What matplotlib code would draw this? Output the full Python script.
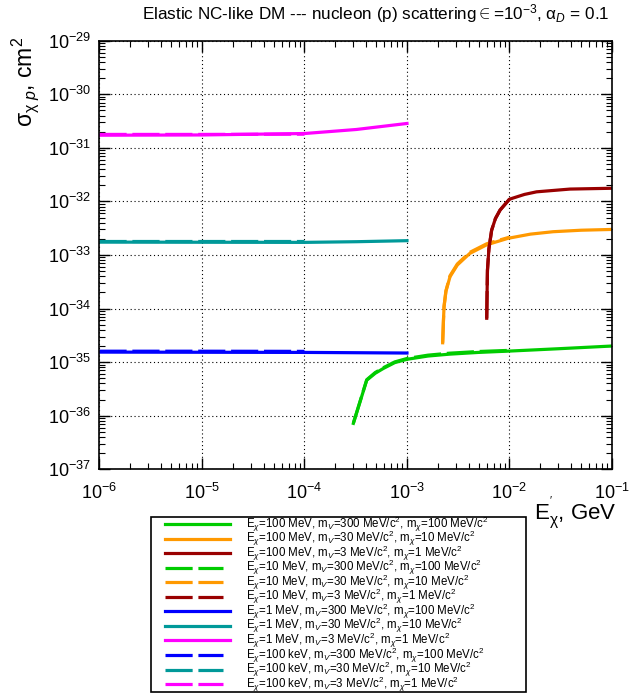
import matplotlib
matplotlib.use("Agg")
import matplotlib.pyplot as plt
from matplotlib.lines import Line2D
from matplotlib.patches import Rectangle
from matplotlib.ticker import LogLocator, NullFormatter, FixedLocator

plt.rcParams['font.family'] = ['Liberation Sans', 'DejaVu Sans']
plt.rcParams['mathtext.fontset'] = 'custom'
plt.rcParams['mathtext.rm'] = 'Liberation Sans'
plt.rcParams['mathtext.it'] = 'Liberation Sans:italic'
plt.rcParams['mathtext.sf'] = 'Liberation Sans'

# E_chi = 100 MeV (solid)
x_100mev_green = [3.0e-4, 4.05e-4, 4.9e-4, 5.9e-4, 7.6e-4, 1e-3, 1.6e-3, 2.6e-3, 5e-3, 1e-2, 3e-2, 1e-1]
y_100mev_green = [7.2e-37, 4.6e-36, 6.2e-36, 7.65e-36, 9.8e-36, 1.13e-35, 1.3e-35, 1.41e-35, 1.52e-35, 1.61e-35, 1.78e-35, 2.0e-35]
x_100mev_orange = [2.23e-3, 2.27e-3, 2.3e-3, 2.4e-3, 2.63e-3, 3.1e-3, 4.1e-3, 6e-3, 9.7e-3, 1.6e-2, 2.67e-2, 5e-2, 1e-1]
y_100mev_orange = [2.3e-35, 6e-35, 1.08e-34, 2.1e-34, 3.93e-34, 6.5e-34, 1.07e-33, 1.55e-33, 2.05e-33, 2.45e-33, 2.72e-33, 2.9e-33, 3.0e-33]
x_100mev_red = [6.0e-3, 6.05e-3, 6.1e-3, 6.3e-3, 6.7e-3, 7.3e-3, 8.1e-3, 1e-2, 1.4e-2, 1.84e-2, 3.9e-2, 1e-1]
y_100mev_red = [6.6e-35, 2e-34, 5.2e-34, 1.3e-33, 2.9e-33, 4.8e-33, 6.9e-33, 1.1e-32, 1.35e-32, 1.51e-32, 1.7e-32, 1.76e-32]

# E_chi = 10 MeV (dashed)
x_10mev_green = [3.0e-4, 4.05e-4, 4.9e-4, 5.9e-4, 7.6e-4, 1e-3, 1.6e-3, 2.6e-3, 5e-3, 1e-2]
y_10mev_green = [7.3e-37, 4.7e-36, 6.4e-36, 7.9e-36, 1.01e-35, 1.17e-35, 1.35e-35, 1.47e-35, 1.58e-35, 1.66e-35]
x_10mev_orange = [2.23e-3, 2.27e-3, 2.3e-3, 2.4e-3, 2.63e-3, 3.1e-3, 4.1e-3, 6e-3, 1e-2]
y_10mev_orange = [2.3e-35, 6e-35, 1.1e-34, 2.15e-34, 4.1e-34, 6.8e-34, 1.12e-33, 1.62e-33, 2.15e-33]
x_10mev_red = [6.0e-3, 6.05e-3, 6.1e-3, 6.3e-3, 6.7e-3, 7.3e-3, 8.1e-3, 1e-2]
y_10mev_red = [6.6e-35, 2e-34, 5.2e-34, 1.3e-33, 2.9e-33, 4.8e-33, 6.9e-33, 1.1e-32]

# E_chi = 1 MeV (solid)
x_1mev = [1e-6, 1e-5, 1e-4, 3.2e-4, 1e-3]
y_1mev_blue = [1.54e-35, 1.53e-35, 1.52e-35, 1.5e-35, 1.48e-35]
y_1mev_teal = [1.74e-33, 1.73e-33, 1.72e-33, 1.77e-33, 1.85e-33]
y_1mev_magenta = [1.72e-31, 1.74e-31, 1.85e-31, 2.2e-31, 2.85e-31]

# E_chi = 100 keV (dashed)
x_100kev = [1e-6, 1e-5, 1e-4]
y_100kev_blue = [1.6e-35, 1.6e-35, 1.59e-35]
y_100kev_teal = [1.8e-33, 1.8e-33, 1.8e-33]
y_100kev_magenta = [1.78e-31, 1.78e-31, 1.8e-31]

# axis decades
x_ticks = [1e-6, 1e-5, 1e-4, 1e-3, 1e-2, 1e-1]
y_ticks = [1e-37, 1e-36, 1e-35, 1e-34, 1e-33, 1e-32, 1e-31, 1e-30, 1e-29]

labels = [
    r"E$_{\chi}$=100 MeV, m$_{V}$=300 MeV/c$^{2}$, m$_{\chi}$=100 MeV/c$^{2}$",
    r"E$_{\chi}$=100 MeV, m$_{V}$=30 MeV/c$^{2}$, m$_{\chi}$=10 MeV/c$^{2}$",
    r"E$_{\chi}$=100 MeV, m$_{V}$=3 MeV/c$^{2}$, m$_{\chi}$=1 MeV/c$^{2}$",
    r"E$_{\chi}$=10 MeV, m$_{V}$=300 MeV/c$^{2}$, m$_{\chi}$=100 MeV/c$^{2}$",
    r"E$_{\chi}$=10 MeV, m$_{V}$=30 MeV/c$^{2}$, m$_{\chi}$=10 MeV/c$^{2}$",
    r"E$_{\chi}$=10 MeV, m$_{V}$=3 MeV/c$^{2}$, m$_{\chi}$=1 MeV/c$^{2}$",
    r"E$_{\chi}$=1 MeV, m$_{V}$=300 MeV/c$^{2}$, m$_{\chi}$=100 MeV/c$^{2}$",
    r"E$_{\chi}$=1 MeV, m$_{V}$=30 MeV/c$^{2}$, m$_{\chi}$=10 MeV/c$^{2}$",
    r"E$_{\chi}$=1 MeV, m$_{V}$=3 MeV/c$^{2}$, m$_{\chi}$=1 MeV/c$^{2}$",
    r"E$_{\chi}$=100 keV, m$_{V}$=300 MeV/c$^{2}$, m$_{\chi}$=100 MeV/c$^{2}$",
    r"E$_{\chi}$=100 keV, m$_{V}$=30 MeV/c$^{2}$, m$_{\chi}$=10 MeV/c$^{2}$",
    r"E$_{\chi}$=100 keV, m$_{V}$=3 MeV/c$^{2}$, m$_{\chi}$=1 MeV/c$^{2}$",
]

green = '#00cc00'
orange = '#ff9900'
darkred = '#990000'
blue = '#0000ff'
teal = '#009999'
magenta = '#ff00ff'
dash = (8.5, 1.8)
lw = 2.3

W, H = 636, 699
fig = plt.figure(figsize=(W / 100, H / 100), dpi=100)
ax = fig.add_axes([0.1564, 0.3286, 0.8058, 0.6132])

curves = [
    (x_100mev_green, y_100mev_green, green, None),
    (x_100mev_orange, y_100mev_orange, orange, None),
    (x_100mev_red, y_100mev_red, darkred, None),
    (x_10mev_green, y_10mev_green, green, dash),
    (x_10mev_orange, y_10mev_orange, orange, dash),
    (x_10mev_red, y_10mev_red, darkred, dash),
    (x_1mev, y_1mev_blue, blue, None),
    (x_1mev, y_1mev_teal, teal, None),
    (x_1mev, y_1mev_magenta, magenta, None),
    (x_100kev, y_100kev_blue, blue, dash),
    (x_100kev, y_100kev_teal, teal, dash),
    (x_100kev, y_100kev_magenta, magenta, dash),
]

for xs, ys, col, ds in curves:
    line, = ax.plot(xs, ys, color=col, lw=lw)
    if ds is not None:
        line.set_dashes(ds)

ax.set_xscale('log')
ax.set_yscale('log')
ax.set_xlim(x_ticks[0], x_ticks[-1])
ax.set_ylim(y_ticks[0], y_ticks[-1])

# ROOT-like ticks and dotted grid
ax.xaxis.set_major_locator(FixedLocator(x_ticks))
ax.yaxis.set_major_locator(FixedLocator(y_ticks))
ax.xaxis.set_minor_locator(LogLocator(base=10, subs=range(2, 10), numticks=20))
ax.yaxis.set_minor_locator(LogLocator(base=10, subs=range(2, 10), numticks=20))
ax.xaxis.set_minor_formatter(NullFormatter())
ax.yaxis.set_minor_formatter(NullFormatter())
ax.tick_params(which='both', direction='in', top=True, right=True, labelsize=13)
ax.tick_params(which='major', length=8, width=1)
ax.tick_params(which='minor', length=4, width=0.8)
ax.tick_params(axis='x', pad=10)
ax.tick_params(axis='y', pad=6)
ax.grid(True, which='major', color='black', linestyle=(0, (1, 2.5)), lw=0.8)
for sp in ax.spines.values():
    sp.set_linewidth(1.2)

fig.text(0.591, 0.981, r"Elastic NC-like DM --- nucleon (p) scattering$\in$=10$^{-3}$, $\mathrm{\alpha}_{D}$ = 0.1",
         ha='center', va='center', fontsize=12.3)
fig.text(0.04, 0.948, r"$\mathrm{\sigma}_{\mathrm{\chi}\ p}$, cm$^{2}$", rotation=90, ha='center', va='top', fontsize=16.5)
fig.text(0.97, 0.265, r"E$^{'}_{\mathrm{\chi}}$, GeV", ha='right', va='center', fontsize=16)

# hand-made ROOT style legend box (pixel layout)
def fx(px):
    return px / W

def fy(py):
    return 1 - py / H

fig.add_artist(Rectangle((fx(151), fy(692)), fx(526) - fx(151), fy(517) - fy(692),
                         transform=fig.transFigure, fill=False, edgecolor='black', lw=1.2))
for i, ((xs, ys, col, ds), lab) in enumerate(zip(curves, labels)):
    yrow = 524 + i * 14.55
    x_end = 230 if ds is None else 223
    ln = Line2D([fx(165), fx(x_end)], [fy(yrow), fy(yrow)], transform=fig.transFigure,
                color=col, lw=lw)
    if ds is not None:
        ln.set_dashes(dash)
    fig.add_artist(ln)
    fig.text(fx(246), fy(yrow), lab, ha='left', va='center', fontsize=8.3)

plt.savefig('out.png', dpi=100)
